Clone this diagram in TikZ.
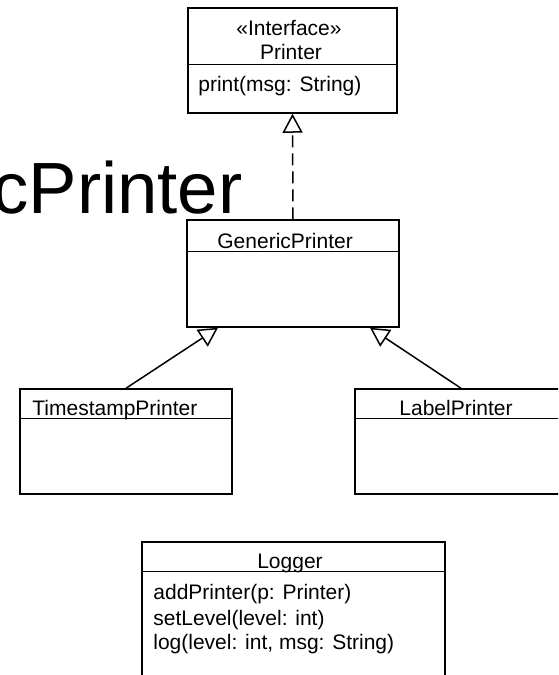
\documentclass[tikz,border=0pt]{standalone}
\usepackage{fontspec}
\setmainfont{Liberation Sans}
\usepackage{tikz}
\usetikzlibrary{calc}
\usetikzlibrary{arrows.meta}

\begin{document}
\begin{tikzpicture}[x=0.5pt,y=-0.5pt,
  every node/.style={font=\fontsize{10.5}{12.75}\selectfont},
  classbox/.style={draw,line width=0.75pt,minimum width=106pt,minimum height=52.5pt,inner sep=0pt},
  txt/.style={inner sep=0pt,anchor=base west},
  generalize/.style={line width=0.75pt,-{Triangle[open,length=9.5pt,width=10pt]}}]
  \useasboundingbox (0,0) rectangle (558,675);
  \clip (0,0) rectangle (558,675);

  % oversized class name, cut by the left edge
  \node [txt,anchor=base east,font=\fontsize{36.3}{40}\selectfont] (bigname) at (243,213) {GenericPrinter};

  \node [classbox,minimum width=104.5pt] (printer) at (292.5,60.5) {};
  \node [classbox,minimum height=53.5pt] (gen) at (293,273.5) {};
  \node [classbox] (ts) at (126,441.5) {};
  \node [classbox] (lab) at (461,441.5) {};
  \node [classbox,minimum width=151.5pt,minimum height=80pt] (logger) at (293.5,622) {};

  \foreach \n/\d in {printer/57,gen/32,ts/30,lab/30,logger/30}
  \draw [line width=0.75pt] ($(\n.north west)+(0,\d)$) -- ($(\n.north east)+(0,\d)$);

  \node [txt,anchor=base] (printerstereo) at (289,35) {«Interface»};
  \node [txt,anchor=base] (printername) at (291,59) {Printer};
  \node [txt] (printerop) at (198,91) {print(msg: String)};
  \node [txt] (genname) at (217,248) {GenericPrinter};
  \node [txt] (tsname) at (32,415) {TimestampPrinter};
  \node [txt] (labname) at (399,415) {LabelPrinter};
  \node [txt,anchor=base] (loggername) at (290,568) {Logger};
  \foreach \y/\t [count=\k] in {599/addPrinter(p: Printer),625/setLevel(level: int),649/{log(level: int, msg: String)}}
  \node [txt] (loggerop\k) at (153,\y) {\t};

  \coordinate (tsend) at ($(gen.south)+(-75,0)$);
  \coordinate (labend) at ($(gen.south)+(77,0)$);
  \draw [generalize,dash pattern=on 6pt off 3pt] (gen.north) -- (printer.south);
  \draw [generalize] (ts.north) -- (tsend);
  \draw [generalize] (lab.north) -- (labend);

\end{tikzpicture}
\end{document}
